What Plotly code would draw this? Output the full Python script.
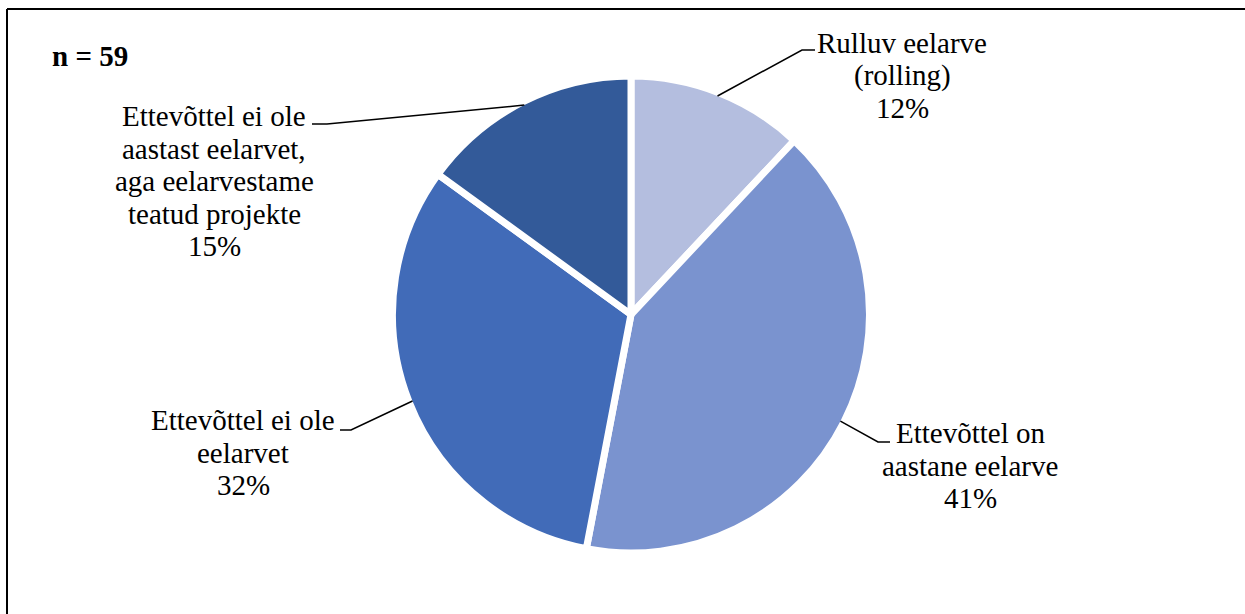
import math
import plotly.graph_objects as go

# Survey: how companies budget (n = 59)
categories = [
    "Rulluv eelarve (rolling)",
    "Ettevõttel on aastane eelarve",
    "Ettevõttel ei ole eelarvet",
    "Ettevõttel ei ole aastast eelarvet, aga eelarvestame teatud projekte",
]
label_lines = [
    ["Rulluv eelarve", "(rolling)"],
    ["Ettevõttel on", "aastane eelarve"],
    ["Ettevõttel ei ole", "eelarvet"],
    ["Ettevõttel ei ole", "aastast eelarvet,", "aga eelarvestame", "teatud projekte"],
]
shares = [12, 41, 32, 15]          # percent
colors = ["#B4BEDF", "#7A93CF", "#416BB8", "#335A99"]
sample_note = "n = 59"

W, H = 1245, 614
FONT = "Liberation Serif"
FS = 29
LINE_H = 32.5

# pie geometry in pixels
CX, CY = 631, 314.5
GAP = 7
R = 235 + GAP / 2


def px(x):
    return x / W


def py(y):
    return 1 - y / H


fig = go.Figure(go.Pie(
    labels=categories,
    values=shares,
    sort=False,
    direction="clockwise",
    rotation=0,
    marker=dict(colors=colors, line=dict(color="white", width=GAP)),
    textinfo="none",
    hoverinfo="label+percent",
    showlegend=False,
    domain=dict(x=[px(CX - R), px(CX + R)], y=[py(CY + R), py(CY - R)]),
))

# label placement: text centre x, first baseline y, leader elbow, stub end
label_layout = [
    dict(cx=902, base=53, elbow=(802, 50), stub=(815, 50)),
    dict(cx=970, base=443, elbow=(878, 442), stub=(890, 442)),
    dict(cx=243, base=430, elbow=(351, 430), stub=(340, 430)),
    dict(cx=214, base=126, elbow=(327, 124), stub=(312, 124)),
]

annotations = []
shapes = []
total = sum(shares)
start = 0.0
for lines, val, lay in zip(label_lines, shares, label_layout):
    span = 360.0 * val / total
    mid = math.radians(start + span / 2)
    start += span
    # point on the slice edge at its mid angle
    ex = CX + (R - GAP / 2) * math.sin(mid)
    ey = CY - (R - GAP / 2) * math.cos(mid)
    path = "M {:.5f},{:.5f} L {:.5f},{:.5f} L {:.5f},{:.5f}".format(
        px(ex), py(ey), px(lay["elbow"][0]), py(lay["elbow"][1]),
        px(lay["stub"][0]), py(lay["stub"][1]))
    shapes.append(dict(type="path", xref="paper", yref="paper", path=path,
                       line=dict(color="black", width=1.5)))
    for i, txt in enumerate(lines + [f"{val}%"]):
        base = lay["base"] + i * LINE_H
        annotations.append(dict(
            x=px(lay["cx"]), y=py(base - 0.34 * FS), xref="paper", yref="paper",
            text=txt, showarrow=False, xanchor="center", yanchor="middle",
            font=dict(family=FONT, size=FS, color="black"),
        ))

annotations.append(dict(
    x=px(50), y=py(66 - 0.34 * FS), xref="paper", yref="paper",
    text=f"<b>{sample_note}</b>", showarrow=False, xanchor="left", yanchor="middle",
    font=dict(family=FONT, size=FS, color="black"),
))

# chart frame (left and top edges)
shapes.append(dict(type="line", xref="paper", yref="paper",
                   x0=px(7), x1=px(7), y0=-0.05, y1=py(9),
                   line=dict(color="black", width=2)))
shapes.append(dict(type="line", xref="paper", yref="paper",
                   x0=px(7), x1=1.05, y0=py(9), y1=py(9),
                   line=dict(color="black", width=2)))

fig.update_layout(
    width=W, height=H,
    margin=dict(l=0, r=0, t=0, b=0),
    paper_bgcolor="white", plot_bgcolor="white",
    font=dict(family=FONT),
    annotations=annotations, shapes=shapes,
)

fig.write_html("out.html")
